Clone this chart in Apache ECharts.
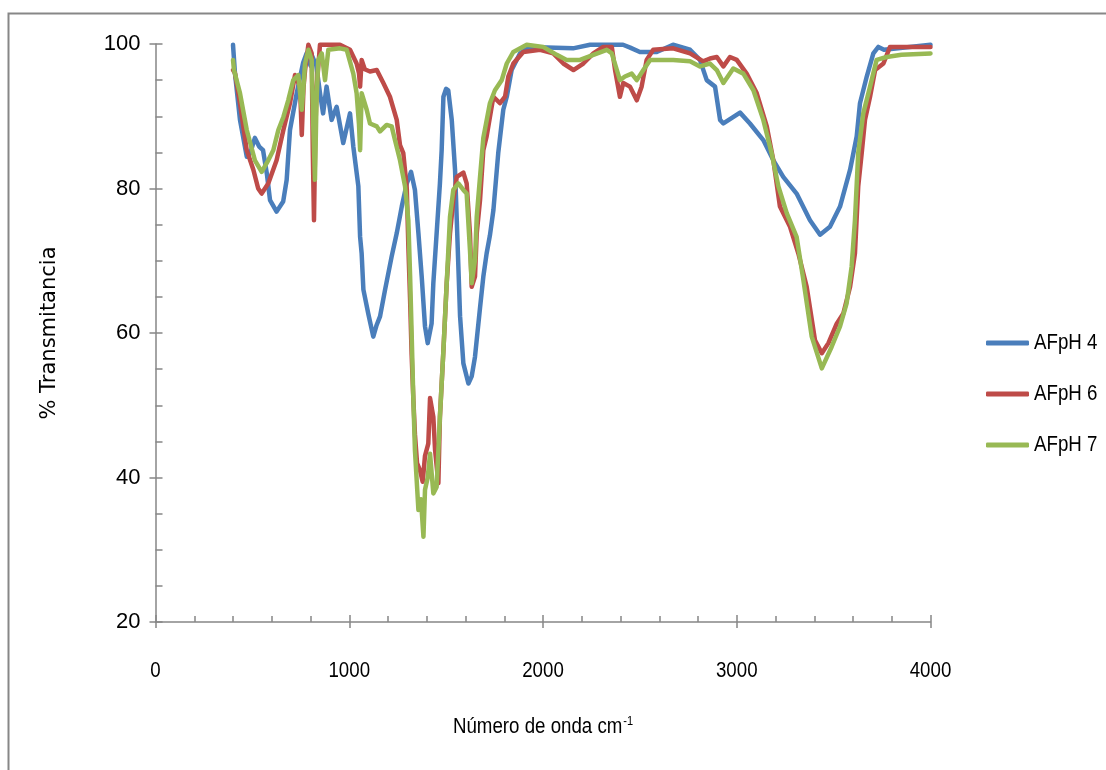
<!DOCTYPE html>
<html>
<head>
<meta charset="utf-8">
<title>Espectros IR AF</title>
<script src="https://cdn.jsdelivr.net/npm/echarts@6/dist/echarts.min.js"></script>
<style>
  html, body { margin: 0; padding: 0; background: #ffffff; }
  #chart { width: 1106px; height: 770px; }
</style>
</head>
<body>
<div id="chart"></div>
<script>
// Tick values
const xTicks = [0, 1000, 2000, 3000, 4000];
const yTicks = [20, 40, 60, 80, 100];

// Series labels
const seriesNames = ['AFpH 4', 'AFpH 6', 'AFpH 7'];

// AFpH 4: wavenumber (cm-1) and % transmittance
const afph4Wn = [400, 410, 436, 471, 490, 513, 535, 555, 575, 591, 625, 659, 677, 694, 729, 762, 780, 800, 806, 830, 850, 865, 883, 909, 935, 969, 1004, 1021, 1047, 1056, 1064, 1073, 1098, 1124, 1140, 1159, 1185, 1219, 1245, 1271, 1297, 1319, 1339, 1357, 1374, 1391, 1405, 1425, 1434, 1451, 1468, 1477, 1486, 1500, 1511, 1529, 1546, 1555, 1572, 1589, 1615, 1632, 1649, 1675, 1692, 1709, 1726, 1744, 1769, 1795, 1813, 1838, 1881, 1933, 2155, 2243, 2413, 2450, 2500, 2587, 2671, 2759, 2810, 2845, 2888, 2914, 2931, 2965, 3017, 3068, 3137, 3189, 3240, 3309, 3378, 3430, 3481, 3533, 3585, 3619, 3636, 3671, 3705, 3731, 3760, 4000];
const afph4T = [99.9, 96, 89.5, 84.4, 85, 87, 85.8, 85.3, 82, 78.4, 76.8, 78.2, 81.2, 88.1, 93.2, 97.4, 98.7, 97, 98.5, 97, 93, 90.4, 94.1, 89.5, 91.3, 86.3, 90.4, 85.8, 80.3, 73.3, 71, 66, 62.7, 59.5, 61, 62.3, 66, 70.6, 73.8, 77.5, 80.7, 82.3, 79.8, 73.8, 67.8, 60.9, 58.6, 61.3, 66.9, 73.8, 80.7, 85.3, 92.7, 93.8, 93.6, 89.5, 82.6, 75.6, 62.3, 55.8, 53, 54, 56.7, 63.5, 67.8, 71, 73.5, 77, 84.9, 90.9, 92.7, 96.4, 98.7, 99.6, 99.4, 99.9, 99.9, 99.5, 98.9, 98.9, 99.9, 99.2, 97.8, 95, 94.1, 89.5, 89, 89.6, 90.5, 89, 86.7, 83.9, 81.6, 79.3, 75.6, 73.6, 74.7, 77.5, 82.6, 87.2, 91.8, 95.5, 98.7, 99.6, 99.2, 99.9];

// AFpH 6
const afph6Wn = [400, 410, 436, 471, 505, 530, 548, 582, 625, 660, 694, 720, 746, 755, 764, 772, 789, 806, 812, 818, 825, 832, 849, 952, 1004, 1038, 1050, 1056, 1064, 1080, 1107, 1142, 1176, 1210, 1245, 1262, 1279, 1297, 1305, 1314, 1322, 1331, 1339, 1350, 1365, 1379, 1391, 1408, 1417, 1434, 1443, 1460, 1468, 1486, 1503, 1520, 1537, 1555, 1589, 1606, 1623, 1632, 1649, 1658, 1675, 1692, 1709, 1744, 1778, 1804, 1821, 1847, 1898, 1985, 2053, 2105, 2157, 2208, 2260, 2311, 2355, 2372, 2397, 2414, 2449, 2484, 2509, 2535, 2569, 2672, 2759, 2827, 2862, 2897, 2931, 2965, 3000, 3051, 3103, 3155, 3189, 3223, 3275, 3318, 3361, 3404, 3439, 3473, 3516, 3550, 3585, 3610, 3627, 3645, 3662, 3688, 3714, 3757, 3791, 4000];
const afph6T = [96.4, 96, 91.8, 85.3, 82.6, 80, 79.3, 80.7, 83.9, 88.1, 91.8, 95.7, 94.1, 87.4, 94, 96.4, 99.9, 98.7, 85, 75.6, 88, 94.1, 99.9, 99.9, 99.2, 97.3, 96, 94.1, 97.8, 96.5, 96.2, 96.4, 94.6, 92.7, 89.5, 86, 84.9, 80, 72, 64.6, 57, 50.7, 46, 42, 41, 39.4, 43, 44.7, 51, 48.4, 43.8, 39.2, 48.4, 57.6, 66.9, 73.8, 78.4, 81.6, 82.2, 80.7, 73.8, 66.4, 67.8, 73.8, 78.4, 85.3, 87.2, 92.7, 91.8, 92.7, 95.5, 97.3, 98.9, 99.2, 98.7, 97.3, 96.4, 97.3, 98.7, 99.6, 99.6, 96.4, 92.7, 94.6, 94.1, 92.2, 94.1, 97.8, 99.2, 99.4, 98.7, 97.6, 98, 98.2, 96.9, 98.2, 97.8, 95.9, 93.2, 88.6, 83.9, 77.5, 74.7, 71, 66.4, 59, 57.2, 58.6, 61.3, 62.7, 66.4, 71, 80.3, 84.9, 89.5, 92.7, 96.4, 97.3, 99.6, 99.6];

// AFpH 7
const afph7Wn = [400, 405, 436, 471, 513, 548, 582, 608, 634, 660, 685, 711, 737, 755, 772, 789, 806, 815, 823, 831, 840, 858, 875, 892, 952, 987, 1021, 1038, 1050, 1056, 1064, 1090, 1107, 1142, 1159, 1193, 1219, 1236, 1262, 1288, 1305, 1314, 1322, 1331, 1339, 1357, 1370, 1383, 1391, 1405, 1417, 1434, 1451, 1468, 1486, 1503, 1520, 1537, 1563, 1589, 1606, 1623, 1632, 1649, 1658, 1675, 1692, 1726, 1752, 1787, 1813, 1847, 1916, 2001, 2071, 2122, 2191, 2260, 2329, 2355, 2397, 2423, 2458, 2484, 2518, 2553, 2672, 2759, 2810, 2862, 2897, 2931, 2982, 3034, 3086, 3137, 3180, 3215, 3258, 3309, 3344, 3387, 3439, 3490, 3533, 3567, 3593, 3610, 3627, 3653, 3688, 3722, 3774, 3850, 4000];
const afph7T = [97.8, 96.4, 93.2, 88.1, 83.9, 82.3, 83.9, 85.3, 88.1, 89.9, 92.2, 95, 95.7, 90.9, 97.3, 99.2, 97.8, 88, 81.2, 92, 97.8, 98.7, 95, 99.2, 99.4, 99.2, 95.9, 93.2, 89, 85.3, 93.2, 90.9, 89, 88.6, 87.9, 88.8, 88.6, 86.7, 83.9, 80.3, 75.6, 68, 60, 50.7, 43.8, 35.5, 37, 31.8, 38.3, 40, 43.3, 37.8, 38.7, 48.4, 57.6, 66.9, 76.1, 79.8, 80.7, 79.8, 79.3, 71.5, 66.9, 70.1, 76.1, 81.6, 87, 91.8, 93.6, 95, 97.3, 98.9, 99.9, 99.6, 98.5, 97.8, 97.8, 98.5, 99.2, 98.7, 95, 95.5, 95.9, 95, 96.4, 97.8, 97.8, 97.6, 96.9, 97.3, 96.4, 94.6, 96.6, 95.9, 93.6, 89.5, 84.9, 80.3, 76.6, 73.3, 67.3, 59.5, 55.1, 58.1, 60.9, 64.1, 69.2, 75.6, 84.9, 90.4, 94.1, 97.8, 98.2, 98.5, 98.7];

const colors = ['#4A7EBB', '#BE4B48', '#98B954'];
const labelFont = "'Liberation Sans', Arial, sans-serif";
const titleFont = "'DejaVu Sans', sans-serif";
const axisGray = '#868686';
// horizontal squeeze applied to the upright labels (condensed look)
const condense = 0.85;

function pairs(wn, t) {
  return wn.map((w, i) => [w, t[i]]);
}

const seriesData = [pairs(afph4Wn, afph4T), pairs(afph6Wn, afph6T), pairs(afph7Wn, afph7T)];

const xMin = xTicks[0], xMax = xTicks[xTicks.length - 1];
const yMin = yTicks[0], yMax = yTicks[yTicks.length - 1];
const xStep = xTicks[1] - xTicks[0];
const yStep = yTicks[1] - yTicks[0];

const plainNumber = v => String(v);

const chart = echarts.init(document.getElementById('chart'), null, { renderer: 'canvas' });

chart.setOption({
  animation: false,
  backgroundColor: '#ffffff',
  graphic: [{
    type: 'rect',
    silent: true,
    z: -10,
    shape: { x: 8.5, y: 13.5, width: 1300, height: 900 },
    style: { fill: 'none', stroke: '#878787', lineWidth: 2 }
  }],
  grid: { left: 155.5, right: 175.5, top: 44, bottom: 148, containLabel: false },
  legend: {
    orient: 'vertical',
    left: 981,
    top: 326,
    itemWidth: 43,
    itemHeight: 5,
    itemGap: 27,
    icon: 'roundRect',
    data: seriesNames,
    textStyle: { fontFamily: labelFont, fontSize: 22, color: '#000', lineHeight: 24 }
  },
  xAxis: [{
    type: 'value',
    min: xMin, max: xMax, interval: xStep,
    name: 'Número de onda cm{sup|-1}',
    nameLocation: 'middle',
    nameGap: 93,
    nameTextStyle: {
      fontFamily: labelFont, fontSize: 22, color: '#000',
      rich: { sup: { fontFamily: labelFont, fontSize: 13, color: '#000', verticalAlign: 'top', padding: [0, 0, 10, 1] } }
    },
    axisLine: { show: true, onZero: false, lineStyle: { color: axisGray, width: 1.5 } },
    axisTick: { show: true, inside: true, length: 7, lineStyle: { color: axisGray, width: 1.5 } },
    minorTick: { show: true, splitNumber: 5, length: 6, lineStyle: { color: axisGray, width: 1.5 } },
    axisLabel: { margin: 38, fontFamily: labelFont, fontSize: 22, color: '#000', formatter: plainNumber },
    splitLine: { show: false }
  }, {
    type: 'value',
    position: 'bottom',
    min: xMin, max: xMax, interval: xStep,
    axisLine: { show: false, onZero: false },
    axisTick: { show: true, inside: false, length: 6, lineStyle: { color: axisGray, width: 1.5 } },
    axisLabel: { show: false },
    splitLine: { show: false }
  }],
  yAxis: [{
    type: 'value',
    min: yMin, max: yMax, interval: yStep,
    name: '% Transmitancia',
    nameLocation: 'middle',
    nameGap: 95,
    nameTextStyle: { fontFamily: titleFont, fontSize: 21, color: '#000' },
    axisLine: { show: true, onZero: false, lineStyle: { color: axisGray, width: 1.5 } },
    axisTick: { show: true, inside: true, length: 7, lineStyle: { color: axisGray, width: 1.5 } },
    minorTick: { show: true, splitNumber: 4, length: 7, lineStyle: { color: axisGray, width: 1.5 } },
    axisLabel: { margin: 15, fontFamily: labelFont, fontSize: 22, color: '#000', formatter: plainNumber },
    splitLine: { show: false }
  }, {
    type: 'value',
    position: 'left',
    min: yMin, max: yMax, interval: yStep,
    axisLine: { show: false, onZero: false },
    axisTick: { show: true, inside: false, length: 6, lineStyle: { color: axisGray, width: 1.5 } },
    axisLabel: { show: false },
    splitLine: { show: false }
  }],
  series: seriesNames.map((name, i) => ({
    name: name,
    type: 'line',
    xAxisIndex: 0,
    yAxisIndex: 0,
    data: seriesData[i],
    symbol: 'none',
    showSymbol: false,
    smooth: false,
    color: colors[i],
    lineStyle: { color: colors[i], width: 4.5, join: 'round', cap: 'round' },
    z: 2 + i
  }))
});

// Condense the upright text (tick labels, legend, x title) around each label's anchor.
function condenseLabels() {
  const zr = chart.getZr();
  zr.storage.getRoots().forEach(root => {
    const visit = el => {
      if (el.type === 'text' && el.style && !el.rotation) {
        const fam = el.style.fontFamily || el.style.font || '';
        if (String(fam).indexOf('Liberation Sans') >= 0) {
          el.scaleX = condense;
          el.originX = el.style.x || 0;
          el.originY = el.style.y || 0;
          el.markRedraw();
        }
      }
    };
    visit(root);
    if (root.traverse) root.traverse(visit);
  });
  zr.refreshImmediately();
}
condenseLabels();
</script>
</body>
</html>
